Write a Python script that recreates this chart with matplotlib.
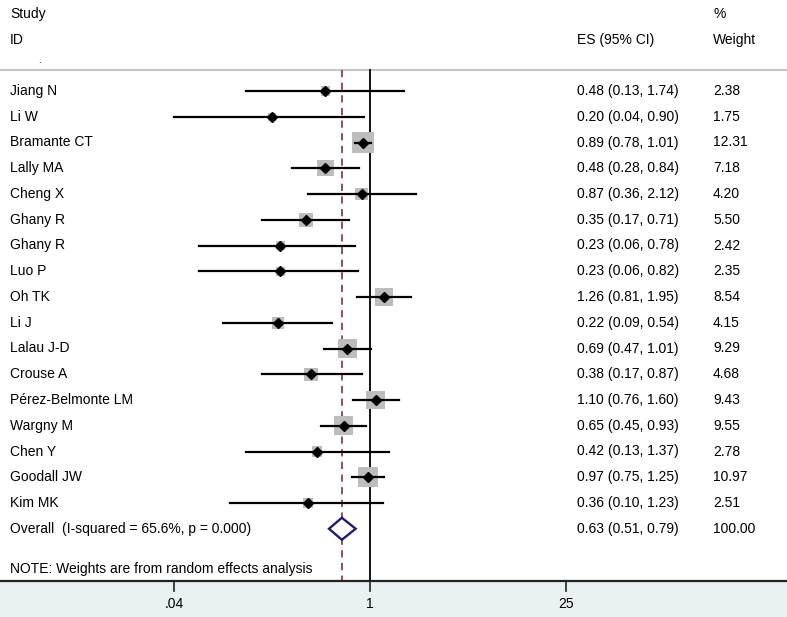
import numpy as np
import matplotlib
matplotlib.use("Agg")
import matplotlib.pyplot as plt
from matplotlib.patches import Rectangle, Polygon

studies = ["Jiang N", "Li W", "Bramante CT", "Lally MA", "Cheng X", "Ghany R", "Ghany R",
           "Luo P", "Oh TK", "Li J", "Lalau J-D", "Crouse A", "Pérez-Belmonte LM",
           "Wargny M", "Chen Y", "Goodall JW", "Kim MK"]
es = [0.48, 0.20, 0.89, 0.48, 0.87, 0.35, 0.23, 0.23, 1.26, 0.22, 0.69, 0.38, 1.10, 0.65, 0.42, 0.97, 0.36]
lo = [0.13, 0.04, 0.78, 0.28, 0.36, 0.17, 0.06, 0.06, 0.81, 0.09, 0.47, 0.17, 0.76, 0.45, 0.13, 0.75, 0.10]
hi = [1.74, 0.90, 1.01, 0.84, 2.12, 0.71, 0.78, 0.82, 1.95, 0.54, 1.01, 0.87, 1.60, 0.93, 1.37, 1.25, 1.23]
weights = [2.38, 1.75, 12.31, 7.18, 4.20, 5.50, 2.42, 2.35, 8.54, 4.15, 9.29, 4.68, 9.43, 9.55, 2.78, 10.97, 2.51]
overall_es, overall_lo, overall_hi = 0.63, 0.51, 0.79
overall_label = "Overall  (I-squared = 65.6%, p = 0.000)"
overall_weight = "100.00"
tick_vals = [0.04, 1, 25]
tick_labels = [".04", "1", "25"]

plt.rcParams["font.family"] = ["Liberation Sans", "DejaVu Sans"]

W, H = 787, 617
fig = plt.figure(figsize=(W / 100, H / 100), dpi=100)
ax = fig.add_axes([0, 0, 1, 1])
PX = 60.9  # pixels per ln unit
x0 = 370
ax.set_xlim(-x0 / PX, (W - x0) / PX)
ax.set_ylim(H, 0)
ax.axis("off")

fs = 10
xt = lambda px: (px - x0) / PX

# bottom band
axis_y = 581
ax.add_patch(Rectangle((xt(0), axis_y), W / PX, H - axis_y, color="#e9f1f3", zorder=0))
ax.plot([xt(0), xt(W)], [axis_y, axis_y], color="#222222", lw=1.6, zorder=3)
for v, lab in zip(tick_vals, tick_labels):
    ax.plot([np.log(v)] * 2, [axis_y, axis_y + 10], color="#222222", lw=1.2)
    ax.text(np.log(v), 604, lab, ha="center", va="center", fontsize=fs)

# header
ax.text(xt(10), 14, "Study", fontsize=fs, va="center")
ax.text(xt(10), 40, "ID", fontsize=fs, va="center")
ax.text(xt(38), 60, ".", fontsize=7, va="center")
ax.text(xt(713), 14, "%", fontsize=fs, va="center")
ax.text(xt(577), 40, "ES (95% CI)", fontsize=fs, va="center")
ax.text(xt(713), 40, "Weight", fontsize=fs, va="center")
ax.plot([xt(0), xt(W)], [70, 70], color="#c4c4c4", lw=1.5)

# reference lines
ax.plot([0, 0], [70, axis_y], color="black", lw=1.3, zorder=2)
ax.plot([np.log(overall_es)] * 2, [70, axis_y], color="#8e3f52", lw=1.3,
        dashes=(4, 3), zorder=2)

y_first, step = 91, 25.75
for i, (s, e, l, h, w) in enumerate(zip(studies, es, lo, hi, weights)):
    y = y_first + i * step
    side = 21.5 * np.sqrt(w / 12.31)
    ax.add_patch(Rectangle((np.log(e) - side / 2 / PX, y - side / 2), side / PX, side,
                           color="#bdbdbd", zorder=3, lw=0))
    ax.plot([np.log(l), np.log(h)], [y, y], color="black", lw=1.6, zorder=4)
    ax.plot(np.log(e), y, marker="D", color="black", ms=5, zorder=5)
    ax.text(xt(10), y, s, fontsize=fs, va="center")
    ax.text(xt(577), y, f"{e:.2f} ({l:.2f}, {h:.2f})", fontsize=fs, va="center")
    ax.text(xt(713), y, f"{w:.2f}", fontsize=fs, va="center")

yo = y_first + len(studies) * step
dh = 11
ax.add_patch(Polygon([(np.log(overall_lo), yo), (np.log(overall_es), yo - dh),
                      (np.log(overall_hi), yo), (np.log(overall_es), yo + dh)],
                     closed=True, facecolor="white", edgecolor="#1c1f6e", lw=1.7, zorder=5))
ax.text(xt(10), yo, overall_label, fontsize=fs, va="center")
ax.text(xt(577), yo, f"{overall_es:.2f} ({overall_lo:.2f}, {overall_hi:.2f})", fontsize=fs, va="center")
ax.text(xt(713), yo, overall_weight, fontsize=fs, va="center")

ax.text(xt(10), 569, "NOTE: Weights are from random effects analysis", fontsize=fs, va="center",
        zorder=4)

fig.savefig("out.png", dpi=100)
